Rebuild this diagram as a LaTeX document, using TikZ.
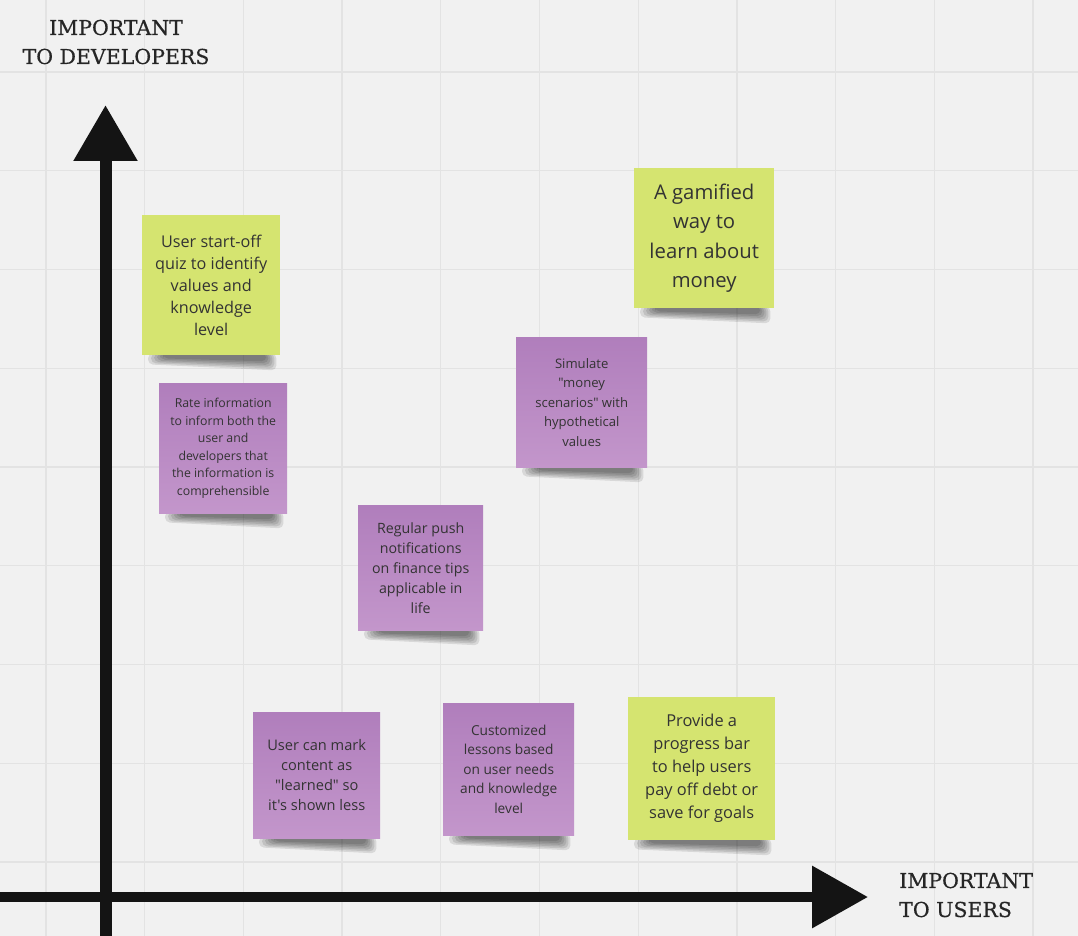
\documentclass[tikz,border=0pt]{standalone}
\usepackage{fontspec}
\newfontfamily\notefont{Open Sans}
\newfontfamily\slab[FakeBold=0.6]{DejaVu Serif}
\usetikzlibrary{arrows.meta}
\pgfdeclarelayer{bglayer}
\pgfdeclarelayer{shadowlayer}
\pgfsetlayers{bglayer,shadowlayer,main}
\definecolor{bg}{HTML}{F1F1F1}
\definecolor{gridc}{HTML}{E3E3E3}
\definecolor{lime}{HTML}{D5E470}
\definecolor{purtop}{HTML}{B07EBC}
\definecolor{purbot}{HTML}{C396CB}
\definecolor{ink}{HTML}{333333}
\definecolor{axisc}{HTML}{141414}
\definecolor{labc}{HTML}{262626}
\tikzset{
  notebase/.style={anchor=north west, inner sep=0pt, align=center, text=ink},
  greennote/.style={notebase, fill=lime},
  purplenote/.style={notebase, top color=purtop, bottom color=purbot, shading angle=0},
  fs/.style 2 args={font=\notefont\fontsize{#1}{#2}\selectfont},
  axlabel/.style={font=\slab\fontsize{20.5}{29}\selectfont, text=labc, inner sep=0pt},
  axisline/.style={draw=axisc, line width=#1},
  shadowlayerfill/.style={fill=black, opacity=0.1, rounded corners=5pt},
}
\begin{document}
\begin{tikzpicture}[x=1pt,y=-1pt]
\useasboundingbox (0,0) rectangle (1078,936);
\begin{pgfonlayer}{bglayer}
\fill[bg] (0,0) rectangle (1078,936);
\foreach \i in {0,...,10} \draw[gridc, line width=1.3pt] ({46+98.7*\i},0) -- ({46+98.7*\i},936);
\foreach \j in {0,...,8} \draw[gridc, line width=1.3pt] (0,{72+98.75*\j}) -- (1078,{72+98.75*\j});
\end{pgfonlayer}

% axes
\coordinate (ybot) at (105.5,936);
\coordinate (ytip) at (105.5,105);
\coordinate (xleft) at (0,897);
\coordinate (xtip) at (868,897);
\draw[axisline=12pt, -{Triangle[length=56pt,width=61pt]}] (ybot) -- (ytip);
\draw[axisline=10pt, -{Triangle[length=56pt,width=60pt]}] (xleft) -- (xtip);

\node[axlabel, align=center] (ylab) at (116,42) {IMPORTANT\\TO DEVELOPERS};
\node[axlabel, align=left, anchor=west] (xlab) at (899,895) {IMPORTANT\\TO USERS};

% notes
\node[greennote, minimum width=138pt, minimum height=140pt, fs={16.2}{22}] (quiz) at (142,215)
  {User start-off\\quiz to identify\\values and\\knowledge\\level};
\node[purplenote, minimum width=128pt, minimum height=130pt, fs={12.3}{17.6}] (rate) at (159,383)
  {Rate information\\to inform both the\\user and\\developers that\\the information is\\comprehensible};
\node[greennote, minimum width=140pt, minimum height=140pt, fs={20.3}{29.3}] (gamified) at (634,168)
  {A gamified\\way to\\learn about\\money};
\node[purplenote, minimum width=131pt, minimum height=130pt, fs={13.1}{19.5}] (simulate) at (516,337)
  {Simulate\\"money\\scenarios" with\\hypothetical\\values};
\node[purplenote, minimum width=125pt, minimum height=125pt, fs={14.2}{20}] (push) at (358,505)
  {Regular push\\notifications\\on finance tips\\applicable in\\life};
\node[purplenote, minimum width=127pt, minimum height=126pt, fs={14.6}{20.2}] (mark) at (253,712)
  {User can mark\\content as\\"learned" so\\it's shown less};
\node[purplenote, minimum width=131pt, minimum height=132pt, fs={13.7}{19.6}] (lessons) at (443,703)
  {Customized\\lessons based\\on user needs\\and knowledge\\level};
\node[greennote, minimum width=147pt, minimum height=143pt, fs={16.4}{23}] (progress) at (628,697)
  {Provide a\\progress bar\\to help users\\pay off debt or\\save for goals};

% soft shadows under the notes (layered, deeper on the right)
\begin{pgfonlayer}{shadowlayer}
\foreach \n in {quiz,rate,gamified,simulate,push,mark,lessons,progress} {
  \foreach \k in {0,...,5} {
    \fill[shadowlayerfill]
      ([xshift={(6+3*\k)*1pt}, yshift=2pt]\n.south west) --
      ([xshift={-(4+2*\k)*1pt}, yshift=2pt]\n.south east) --
      ([xshift={-(4+2*\k)*1pt}, yshift={-(15-1.8*\k)*1pt}]\n.south east) --
      ([xshift={(6+3*\k)*1pt}, yshift={-(9-1.2*\k)*1pt}]\n.south west) -- cycle;
  }
}
\end{pgfonlayer}
\end{tikzpicture}
\end{document}
